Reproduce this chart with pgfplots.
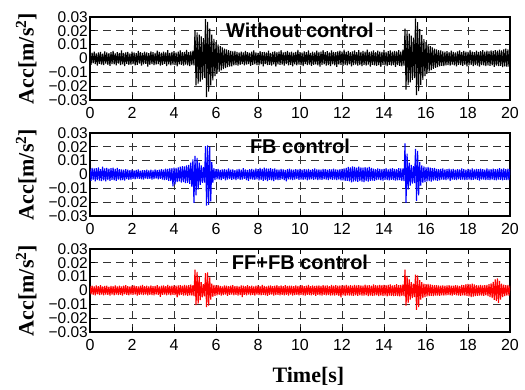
\documentclass[border=0pt]{standalone}
\usepackage{fontspec}
\setmainfont{Liberation Serif}
\setsansfont{Liberation Sans}
\usepackage{pgfplots}
\pgfplotsset{compat=1.18}
\tikzset{ttl/.style={font=\fontsize{20}{20}\selectfont\sffamily\bfseries}}
\pgfplotsset{
  accax/.style={
    scale only axis, width=420pt, height=83pt,
    xmin=0, xmax=20, ymin=-0.03, ymax=0.03,
    scaled y ticks=false,
    xtick={0,2,4,6,8,10,12,14,16,18,20},
    xticklabels={0,2,4,6,8,10,12,14,16,18,20},
    ytick={-0.03,-0.02,-0.01,0,0.01,0.02,0.03},
    yticklabels={−0.03,−0.02,−0.01,0,0.01,0.02,0.03},
    grid=major,
    major grid style={black!80, dash pattern=on 8pt off 5pt, line width=0.7pt},
    tick style={black, line width=0.8pt}, major tick length=5pt, tick align=inside,
    axis line style={line width=1.2pt},
    xticklabel style={font=\fontsize{16}{16}\selectfont\sffamily, inner sep=2pt, yshift=-5pt},
    yticklabel style={font=\fontsize{15.5}{15.5}\selectfont\sffamily, inner sep=0pt, xshift=-2pt},
    ylabel={Acc[m/s\textsuperscript{2}]},
    every axis y label/.style={at={(axis description cs:-0.152,0.5)}, rotate=90, anchor=center,
      font=\fontsize{22}{22}\selectfont\bfseries},
    every axis x label/.style={at={(axis description cs:0.52,-0.53)}, anchor=center,
      font=\fontsize{22}{22}\selectfont\bfseries},
    every axis plot/.append style={line width=1.1pt, line join=bevel},
  },
}
\begin{document}
\begin{tikzpicture}
\path[use as bounding box] (0pt,0pt) rectangle (525pt,390pt);
% ---------------- Without control ----------------
\begin{axis}[accax, at={(90pt,290pt)}, anchor=south west]
\addplot[black] coordinates {
(0,0.0038) (0.05,-0.0046) (0.1,0.0042) (0.15,-0.0035) (0.2,0.0049) (0.25,-0.0041) (0.3,0.0036) (0.35,-0.0052) (0.4,0.0044) (0.45,-0.0039) (0.5,0.0047) (0.55,-0.0044) (0.6,0.0034) (0.65,-0.0048) (0.7,0.0051) (0.75,-0.0037) (0.8,0.0043) (0.85,-0.0045) (0.9,0.0039) (0.95,-0.0053)
(1,0.0046) (1.05,-0.0040) (1.1,0.0055) (1.15,-0.0043) (1.2,0.0037) (1.25,-0.0049) (1.3,0.0045) (1.35,-0.0036) (1.4,0.0041) (1.45,-0.0047) (1.5,0.0058) (1.55,-0.0042) (1.6,0.0040) (1.65,-0.0055) (1.7,0.0044) (1.75,-0.0038) (1.8,0.0048) (1.85,-0.0046) (1.9,0.0036) (1.95,-0.0044)
(2,0.0050) (2.05,-0.0041) (2.1,0.0043) (2.15,-0.0050) (2.2,0.0039) (2.25,-0.0045) (2.3,0.0054) (2.35,-0.0037) (2.4,0.0046) (2.45,-0.0052) (2.5,0.0041) (2.55,-0.0043) (2.6,0.0049) (2.65,-0.0039) (2.7,0.0044) (2.75,-0.0058) (2.8,0.0038) (2.85,-0.0045) (2.9,0.0052) (2.95,-0.0041)
(3,0.0045) (3.05,-0.0048) (3.1,0.0040) (3.15,-0.0044) (3.2,0.0057) (3.25,-0.0040) (3.3,0.0047) (3.35,-0.0051) (3.4,0.0042) (3.45,-0.0046) (3.5,0.0050) (3.55,-0.0038) (3.6,0.0044) (3.65,-0.0054) (3.7,0.0061) (3.75,-0.0043) (3.8,0.0041) (3.85,-0.0049) (3.9,0.0048) (3.95,-0.0044)
(4,0.0053) (4.05,-0.0047) (4.1,0.0043) (4.15,-0.0056) (4.2,0.0049) (4.25,-0.0042) (4.3,0.0058) (4.35,-0.0046) (4.4,0.0045) (4.45,-0.0051) (4.5,0.0047) (4.55,-0.0044) (4.6,0.0062) (4.65,-0.0049) (4.7,0.0046) (4.75,-0.0055) (4.8,0.0051) (4.85,-0.0047) (4.9,0.0056) (4.95,-0.0050)
(5,0.0205) (5.05,-0.0195) (5.1,0.0188) (5.15,-0.0182) (5.2,0.0172) (5.25,-0.0168) (5.3,0.0160) (5.35,-0.0152) (5.4,0.0148) (5.45,-0.0140) (5.5,0.0285) (5.55,-0.0280) (5.6,0.0265) (5.65,-0.0240) (5.7,0.0215) (5.75,-0.0195) (5.8,0.0172) (5.85,-0.0158) (5.9,0.0142) (5.95,-0.0128)
(6,0.0118) (6.05,-0.0110) (6.1,0.0102) (6.15,-0.0096) (6.2,0.0090) (6.25,-0.0085) (6.3,0.0081) (6.35,-0.0076) (6.4,0.0072) (6.45,-0.0069) (6.5,0.0066) (6.55,-0.0063) (6.6,0.0060) (6.65,-0.0058) (6.7,0.0055) (6.75,-0.0057) (6.8,0.0052) (6.85,-0.0050) (6.9,0.0054) (6.95,-0.0048)
(7,0.0047) (7.05,-0.0052) (7.1,0.0044) (7.15,-0.0046) (7.2,0.0050) (7.25,-0.0041) (7.3,0.0043) (7.35,-0.0049) (7.4,0.0055) (7.45,-0.0044) (7.5,0.0046) (7.55,-0.0040) (7.6,0.0042) (7.65,-0.0053) (7.7,0.0049) (7.75,-0.0045) (7.8,0.0059) (7.85,-0.0042) (7.9,0.0044) (7.95,-0.0047)
(8,0.0041) (8.05,-0.0050) (8.1,0.0053) (8.15,-0.0043) (8.2,0.0045) (8.25,-0.0056) (8.3,0.0048) (8.35,-0.0041) (8.4,0.0043) (8.45,-0.0048) (8.5,0.0057) (8.55,-0.0045) (8.6,0.0040) (8.65,-0.0051) (8.7,0.0047) (8.75,-0.0043) (8.8,0.0052) (8.85,-0.0059) (8.9,0.0045) (8.95,-0.0042)
(9,0.0049) (9.05,-0.0046) (9.1,0.0060) (9.15,-0.0044) (9.2,0.0043) (9.25,-0.0052) (9.3,0.0047) (9.35,-0.0040) (9.4,0.0055) (9.45,-0.0049) (9.5,0.0044) (9.55,-0.0045) (9.6,0.0050) (9.65,-0.0057) (9.7,0.0042) (9.75,-0.0043) (9.8,0.0048) (9.85,-0.0050) (9.9,0.0062) (9.95,-0.0044)
(10,0.0046) (10.05,-0.0048) (10.1,0.0043) (10.15,-0.0055) (10.2,0.0052) (10.25,-0.0041) (10.3,0.0045) (10.35,-0.0047) (10.4,0.0058) (10.45,-0.0044) (10.5,0.0041) (10.55,-0.0053) (10.6,0.0049) (10.65,-0.0046) (10.7,0.0044) (10.75,-0.0042) (10.8,0.0056) (10.85,-0.0049) (10.9,0.0047) (10.95,-0.0058)
(11,0.0050) (11.05,-0.0045) (11.1,0.0061) (11.15,-0.0043) (11.2,0.0046) (11.25,-0.0051) (11.3,0.0053) (11.35,-0.0047) (11.4,0.0044) (11.45,-0.0055) (11.5,0.0059) (11.55,-0.0042) (11.6,0.0048) (11.65,-0.0049) (11.7,0.0045) (11.75,-0.0060) (11.8,0.0052) (11.85,-0.0044) (11.9,0.0057) (11.95,-0.0046)
(12,0.0049) (12.05,-0.0053) (12.1,0.0063) (12.15,-0.0045) (12.2,0.0047) (12.25,-0.0050) (12.3,0.0055) (12.35,-0.0043) (12.4,0.0046) (12.45,-0.0057) (12.5,0.0051) (12.55,-0.0048) (12.6,0.0058) (12.65,-0.0044) (12.7,0.0045) (12.75,-0.0052) (12.8,0.0060) (12.85,-0.0047) (12.9,0.0048) (12.95,-0.0055)
(13,0.0054) (13.05,-0.0046) (13.1,0.0049) (13.15,-0.0051) (13.2,0.0064) (13.25,-0.0044) (13.3,0.0047) (13.35,-0.0058) (13.4,0.0052) (13.45,-0.0045) (13.5,0.0059) (13.55,-0.0049) (13.6,0.0046) (13.65,-0.0053) (13.7,0.0056) (13.75,-0.0047) (13.8,0.0050) (13.85,-0.0061) (13.9,0.0048) (13.95,-0.0045)
(14,0.0062) (14.05,-0.0050) (14.1,0.0047) (14.15,-0.0054) (14.2,0.0053) (14.25,-0.0046) (14.3,0.0058) (14.35,-0.0052) (14.4,0.0049) (14.45,-0.0047) (14.5,0.0055) (14.55,-0.0060) (14.6,0.0051) (14.65,-0.0048) (14.7,0.0060) (14.75,-0.0053) (14.8,0.0050) (14.85,-0.0056) (14.9,0.0063) (14.95,-0.0051)
(15,0.0215) (15.05,-0.0225) (15.1,0.0198) (15.15,-0.0190) (15.2,0.0180) (15.25,-0.0172) (15.3,0.0165) (15.35,-0.0155) (15.4,0.0150) (15.45,-0.0142) (15.5,0.0290) (15.55,-0.0265) (15.6,0.0262) (15.65,-0.0235) (15.7,0.0212) (15.75,-0.0190) (15.8,0.0170) (15.85,-0.0155) (15.9,0.0140) (15.95,-0.0128)
(16,0.0118) (16.05,-0.0110) (16.1,0.0102) (16.15,-0.0095) (16.2,0.0090) (16.25,-0.0084) (16.3,0.0080) (16.35,-0.0075) (16.4,0.0072) (16.45,-0.0068) (16.5,0.0066) (16.55,-0.0062) (16.6,0.0060) (16.65,-0.0057) (16.7,0.0058) (16.75,-0.0053) (16.8,0.0051) (16.85,-0.0055) (16.9,0.0049) (16.95,-0.0050)
(17,0.0053) (17.05,-0.0047) (17.1,0.0045) (17.15,-0.0052) (17.2,0.0057) (17.25,-0.0044) (17.3,0.0048) (17.35,-0.0050) (17.4,0.0044) (17.45,-0.0056) (17.5,0.0051) (17.55,-0.0046) (17.6,0.0059) (17.65,-0.0048) (17.7,0.0046) (17.75,-0.0053) (17.8,0.0055) (17.85,-0.0045) (17.9,0.0049) (17.95,-0.0057)
(18,0.0047) (18.05,-0.0049) (18.1,0.0060) (18.15,-0.0046) (18.2,0.0050) (18.25,-0.0054) (18.3,0.0046) (18.35,-0.0048) (18.4,0.0056) (18.45,-0.0051) (18.5,0.0048) (18.55,-0.0059) (18.6,0.0053) (18.65,-0.0047) (18.7,0.0061) (18.75,-0.0050) (18.8,0.0049) (18.85,-0.0055) (18.9,0.0057) (18.95,-0.0049)
(19,0.0052) (19.05,-0.0053) (19.1,0.0058) (19.15,-0.0050) (19.2,0.0055) (19.25,-0.0061) (19.3,0.0060) (19.35,-0.0052) (19.4,0.0057) (19.45,-0.0055) (19.5,0.0063) (19.55,-0.0054) (19.6,0.0059) (19.65,-0.0062) (19.7,0.0066) (19.75,-0.0056) (19.8,0.0071) (19.85,-0.0060) (19.9,0.0065) (19.95,-0.0058) (20,0.0062)
};
\node[ttl] at (axis description cs:0.5,0.84) {Without control};
\end{axis}
% ---------------- FB control ----------------
\begin{axis}[accax, at={(90pt,174pt)}, anchor=south west]
\addplot[blue] coordinates {
(0,0.0041) (0.05,-0.0045) (0.1,0.0048) (0.15,-0.0038) (0.2,0.0043) (0.25,-0.0050) (0.3,0.0046) (0.35,-0.0041) (0.4,0.0052) (0.45,-0.0044) (0.5,0.0039) (0.55,-0.0047) (0.6,0.0057) (0.65,-0.0042) (0.7,0.0044) (0.75,-0.0049) (0.8,0.0047) (0.85,-0.0040) (0.9,0.0042) (0.95,-0.0046)
(1,0.0045) (1.05,-0.0039) (1.1,0.0050) (1.15,-0.0043) (1.2,0.0040) (1.25,-0.0045) (1.3,0.0047) (1.35,-0.0037) (1.4,0.0038) (1.45,-0.0042) (1.5,0.0036) (1.55,-0.0040) (1.6,0.0034) (1.65,-0.0044) (1.7,0.0039) (1.75,-0.0033) (1.8,0.0035) (1.85,-0.0038) (1.9,0.0032) (1.95,-0.0036)
(2,0.0034) (2.05,-0.0031) (2.1,0.0030) (2.15,-0.0035) (2.2,0.0033) (2.25,-0.0029) (2.3,0.0036) (2.35,-0.0032) (2.4,0.0028) (2.45,-0.0034) (2.5,0.0031) (2.55,-0.0037) (2.6,0.0032) (2.65,-0.0030) (2.7,0.0035) (2.75,-0.0033) (2.8,0.0029) (2.85,-0.0031) (2.9,0.0034) (2.95,-0.0036)
(3,0.0030) (3.05,-0.0033) (3.1,0.0036) (3.15,-0.0029) (3.2,0.0032) (3.25,-0.0035) (3.3,0.0034) (3.35,-0.0031) (3.4,0.0038) (3.45,-0.0036) (3.5,0.0035) (3.55,-0.0040) (3.6,0.0042) (3.65,-0.0038) (3.7,0.0040) (3.75,-0.0045) (3.8,0.0044) (3.85,-0.0048) (3.9,0.0046) (3.95,-0.0085)
(4,0.0050) (4.05,-0.0072) (4.1,0.0048) (4.15,-0.0055) (4.2,0.0052) (4.25,-0.0050) (4.3,0.0056) (4.35,-0.0058) (4.4,0.0060) (4.45,-0.0055) (4.5,0.0058) (4.55,-0.0062) (4.6,0.0065) (4.65,-0.0060) (4.7,0.0070) (4.75,-0.0068) (4.8,0.0085) (4.85,-0.0090) (4.9,0.0110) (4.95,-0.0205)
(5,0.0135) (5.05,-0.0150) (5.1,0.0120) (5.15,-0.0110) (5.2,0.0085) (5.25,-0.0075) (5.3,0.0065) (5.35,-0.0060) (5.4,0.0055) (5.45,-0.0058) (5.5,0.0205) (5.55,-0.0225) (5.6,0.0210) (5.65,-0.0220) (5.7,0.0200) (5.75,-0.0195) (5.8,0.0090) (5.85,-0.0060) (5.9,0.0045) (5.95,-0.0040)
(6,0.0038) (6.05,-0.0035) (6.1,0.0041) (6.15,-0.0037) (6.2,0.0033) (6.25,-0.0040) (6.3,0.0036) (6.35,-0.0032) (6.4,0.0039) (6.45,-0.0042) (6.5,0.0034) (6.55,-0.0036) (6.6,0.0044) (6.65,-0.0033) (6.7,0.0035) (6.75,-0.0039) (6.8,0.0037) (6.85,-0.0034) (6.9,0.0032) (6.95,-0.0041)
(7,0.0036) (7.05,-0.0033) (7.1,0.0040) (7.15,-0.0038) (7.2,0.0034) (7.25,-0.0036) (7.3,0.0045) (7.35,-0.0032) (7.4,0.0037) (7.45,-0.0040) (7.5,0.0033) (7.55,-0.0046) (7.6,0.0038) (7.65,-0.0035) (7.7,0.0041) (7.75,-0.0037) (7.8,0.0035) (7.85,-0.0039) (7.9,0.0043) (7.95,-0.0034)
(8,0.0039) (8.05,-0.0042) (8.1,0.0047) (8.15,-0.0038) (8.2,0.0041) (8.25,-0.0045) (8.3,0.0050) (8.35,-0.0040) (8.4,0.0044) (8.45,-0.0048) (8.5,0.0042) (8.55,-0.0039) (8.6,0.0046) (8.65,-0.0043) (8.7,0.0040) (8.75,-0.0047) (8.8,0.0043) (8.85,-0.0038) (8.9,0.0037) (8.95,-0.0041)
(9,0.0035) (9.05,-0.0038) (9.1,0.0040) (9.15,-0.0034) (9.2,0.0037) (9.25,-0.0041) (9.3,0.0033) (9.35,-0.0050) (9.4,0.0038) (9.45,-0.0035) (9.5,0.0042) (9.55,-0.0037) (9.6,0.0036) (9.65,-0.0040) (9.7,0.0034) (9.75,-0.0036) (9.8,0.0039) (9.85,-0.0033) (9.9,0.0037) (9.95,-0.0039)
(10,0.0041) (10.05,-0.0036) (10.1,0.0034) (10.15,-0.0039) (10.2,0.0038) (10.25,-0.0034) (10.3,0.0036) (10.35,-0.0042) (10.4,0.0040) (10.45,-0.0037) (10.5,0.0033) (10.55,-0.0035) (10.6,0.0039) (10.65,-0.0038) (10.7,0.0043) (10.75,-0.0034) (10.8,0.0036) (10.85,-0.0040) (10.9,0.0037) (10.95,-0.0036)
(11,0.0034) (11.05,-0.0039) (11.1,0.0040) (11.15,-0.0035) (11.2,0.0038) (11.25,-0.0037) (11.3,0.0035) (11.35,-0.0041) (11.4,0.0039) (11.45,-0.0034) (11.5,0.0036) (11.55,-0.0038) (11.6,0.0042) (11.65,-0.0036) (11.7,0.0037) (11.75,-0.0040) (11.8,0.0035) (11.85,-0.0037) (11.9,0.0039) (11.95,-0.0043)
(12,0.0040) (12.05,-0.0042) (12.1,0.0044) (12.15,-0.0046) (12.2,0.0048) (12.25,-0.0045) (12.3,0.0055) (12.35,-0.0050) (12.4,0.0052) (12.45,-0.0056) (12.5,0.0058) (12.55,-0.0051) (12.6,0.0054) (12.65,-0.0049) (12.7,0.0050) (12.75,-0.0053) (12.8,0.0057) (12.85,-0.0048) (12.9,0.0051) (12.95,-0.0052)
(13,0.0049) (13.05,-0.0055) (13.1,0.0053) (13.15,-0.0047) (13.2,0.0050) (13.25,-0.0051) (13.3,0.0055) (13.35,-0.0046) (13.4,0.0048) (13.45,-0.0044) (13.5,0.0042) (13.55,-0.0045) (13.6,0.0039) (13.65,-0.0041) (13.7,0.0043) (13.75,-0.0037) (13.8,0.0040) (13.85,-0.0042) (13.9,0.0038) (13.95,-0.0044)
(14,0.0041) (14.05,-0.0038) (14.1,0.0045) (14.15,-0.0040) (14.2,0.0037) (14.25,-0.0043) (14.3,0.0042) (14.35,-0.0039) (14.4,0.0046) (14.45,-0.0041) (14.5,0.0040) (14.55,-0.0044) (14.6,0.0038) (14.65,-0.0042) (14.7,0.0045) (14.75,-0.0040) (14.8,0.0043) (14.85,-0.0046) (14.9,0.0044) (14.95,-0.0048)
(15,0.0225) (15.05,-0.0205) (15.1,0.0150) (15.15,-0.0110) (15.2,0.0085) (15.25,-0.0080) (15.3,0.0070) (15.35,-0.0065) (15.4,0.0060) (15.45,-0.0062) (15.5,0.0185) (15.55,-0.0190) (15.6,0.0170) (15.65,-0.0150) (15.7,0.0090) (15.75,-0.0080) (15.8,0.0065) (15.85,-0.0060) (15.9,0.0058) (15.95,-0.0055)
(16,0.0052) (16.05,-0.0050) (16.1,0.0055) (16.15,-0.0047) (16.2,0.0049) (16.25,-0.0052) (16.3,0.0046) (16.35,-0.0044) (16.4,0.0048) (16.45,-0.0043) (16.5,0.0041) (16.55,-0.0045) (16.6,0.0039) (16.65,-0.0042) (16.7,0.0040) (16.75,-0.0037) (16.8,0.0043) (16.85,-0.0039) (16.9,0.0036) (16.95,-0.0040)
(17,0.0038) (17.05,-0.0035) (17.1,0.0042) (17.15,-0.0046) (17.2,0.0037) (17.25,-0.0036) (17.3,0.0040) (17.35,-0.0038) (17.4,0.0035) (17.45,-0.0041) (17.5,0.0039) (17.55,-0.0034) (17.6,0.0036) (17.65,-0.0039) (17.7,0.0044) (17.75,-0.0037) (17.8,0.0038) (17.85,-0.0040) (17.9,0.0035) (17.95,-0.0038)
(18,0.0040) (18.05,-0.0036) (18.1,0.0037) (18.15,-0.0041) (18.2,0.0043) (18.25,-0.0038) (18.3,0.0036) (18.35,-0.0035) (18.4,0.0041) (18.45,-0.0039) (18.5,0.0038) (18.55,-0.0044) (18.6,0.0042) (18.65,-0.0037) (18.7,0.0039) (18.75,-0.0036) (18.8,0.0035) (18.85,-0.0040) (18.9,0.0044) (18.95,-0.0038)
(19,0.0037) (19.05,-0.0041) (19.1,0.0039) (19.15,-0.0036) (19.2,0.0042) (19.25,-0.0040) (19.3,0.0038) (19.35,-0.0043) (19.4,0.0041) (19.45,-0.0037) (19.5,0.0045) (19.55,-0.0039) (19.6,0.0040) (19.65,-0.0042) (19.7,0.0043) (19.75,-0.0038) (19.8,0.0039) (19.85,-0.0041) (19.9,0.0042) (19.95,-0.0040) (20,0.0038)
};
\node[ttl] at (axis description cs:0.5,0.84) {FB control};
\end{axis}
% ---------------- FF+FB control ----------------
\begin{axis}[accax, at={(90pt,58pt)}, anchor=south west, xlabel={Time[s]}]
\addplot[red] coordinates {
(0,0.0032) (0.05,-0.0028) (0.1,0.0035) (0.15,-0.0031) (0.2,0.0029) (0.25,-0.0034) (0.3,0.0036) (0.35,-0.0027) (0.4,0.0031) (0.45,-0.0033) (0.5,0.0038) (0.55,-0.0030) (0.6,0.0030) (0.65,-0.0035) (0.7,0.0033) (0.75,-0.0029) (0.8,0.0034) (0.85,-0.0032) (0.9,0.0028) (0.95,-0.0036)
(1,0.0033) (1.05,-0.0030) (1.1,0.0031) (1.15,-0.0034) (1.2,0.0037) (1.25,-0.0029) (1.3,0.0030) (1.35,-0.0033) (1.4,0.0035) (1.45,-0.0031) (1.5,0.0029) (1.55,-0.0036) (1.6,0.0034) (1.65,-0.0028) (1.7,0.0039) (1.75,-0.0032) (1.8,0.0031) (1.85,-0.0034) (1.9,0.0030) (1.95,-0.0030)
(2,0.0034) (2.05,-0.0031) (2.1,0.0036) (2.15,-0.0029) (2.2,0.0032) (2.25,-0.0037) (2.3,0.0029) (2.35,-0.0032) (2.4,0.0035) (2.45,-0.0030) (2.5,0.0040) (2.55,-0.0033) (2.6,0.0031) (2.65,-0.0029) (2.7,0.0034) (2.75,-0.0035) (2.8,0.0030) (2.85,-0.0031) (2.9,0.0036) (2.95,-0.0033)
(3,0.0031) (3.05,-0.0034) (3.1,0.0033) (3.15,-0.0030) (3.2,0.0038) (3.25,-0.0032) (3.3,0.0030) (3.35,-0.0045) (3.4,0.0034) (3.45,-0.0031) (3.5,0.0036) (3.55,-0.0029) (3.6,0.0032) (3.65,-0.0035) (3.7,0.0041) (3.75,-0.0030) (3.8,0.0033) (3.85,-0.0034) (3.9,0.0035) (3.95,-0.0032)
(4,0.0037) (4.05,-0.0033) (4.1,0.0034) (4.15,-0.0050) (4.2,0.0036) (4.25,-0.0035) (4.3,0.0039) (4.35,-0.0032) (4.4,0.0035) (4.45,-0.0037) (4.5,0.0040) (4.55,-0.0034) (4.6,0.0036) (4.65,-0.0039) (4.7,0.0038) (4.75,-0.0035) (4.8,0.0042) (4.85,-0.0037) (4.9,0.0039) (4.95,-0.0041)
(5,0.0150) (5.05,-0.0105) (5.1,0.0135) (5.15,-0.0095) (5.2,0.0100) (5.25,-0.0070) (5.3,0.0060) (5.35,-0.0050) (5.4,0.0045) (5.45,-0.0042) (5.5,0.0125) (5.55,-0.0120) (5.6,0.0130) (5.65,-0.0110) (5.7,0.0095) (5.75,-0.0065) (5.8,0.0050) (5.85,-0.0045) (5.9,0.0040) (5.95,-0.0038)
(6,0.0036) (6.05,-0.0034) (6.1,0.0039) (6.15,-0.0031) (6.2,0.0033) (6.25,-0.0036) (6.3,0.0030) (6.35,-0.0033) (6.4,0.0037) (6.45,-0.0030) (6.5,0.0034) (6.55,-0.0038) (6.6,0.0031) (6.65,-0.0032) (6.7,0.0035) (6.75,-0.0029) (6.8,0.0038) (6.85,-0.0034) (6.9,0.0032) (6.95,-0.0031)
(7,0.0033) (7.05,-0.0036) (7.1,0.0030) (7.15,-0.0033) (7.2,0.0036) (7.25,-0.0048) (7.3,0.0034) (7.35,-0.0031) (7.4,0.0032) (7.45,-0.0035) (7.5,0.0039) (7.55,-0.0030) (7.6,0.0031) (7.65,-0.0034) (7.7,0.0035) (7.75,-0.0032) (7.8,0.0030) (7.85,-0.0037) (7.9,0.0034) (7.95,-0.0030)
(8,0.0036) (8.05,-0.0033) (8.1,0.0031) (8.15,-0.0035) (8.2,0.0040) (8.25,-0.0031) (8.3,0.0033) (8.35,-0.0034) (8.4,0.0030) (8.45,-0.0038) (8.5,0.0035) (8.55,-0.0032) (8.6,0.0037) (8.65,-0.0030) (8.7,0.0032) (8.75,-0.0036) (8.8,0.0034) (8.85,-0.0033) (8.9,0.0039) (8.95,-0.0031)
(9,0.0032) (9.05,-0.0035) (9.1,0.0036) (9.15,-0.0032) (9.2,0.0031) (9.25,-0.0034) (9.3,0.0038) (9.35,-0.0031) (9.4,0.0033) (9.45,-0.0036) (9.5,0.0035) (9.55,-0.0030) (9.6,0.0034) (9.65,-0.0037) (9.7,0.0031) (9.75,-0.0033) (9.8,0.0037) (9.85,-0.0032) (9.9,0.0033) (9.95,-0.0035)
(10,0.0035) (10.05,-0.0031) (10.1,0.0038) (10.15,-0.0034) (10.2,0.0032) (10.25,-0.0036) (10.3,0.0034) (10.35,-0.0032) (10.4,0.0041) (10.45,-0.0033) (10.5,0.0031) (10.55,-0.0035) (10.6,0.0036) (10.65,-0.0031) (10.7,0.0033) (10.75,-0.0038) (10.8,0.0035) (10.85,-0.0032) (10.9,0.0037) (10.95,-0.0034)
(11,0.0033) (11.05,-0.0036) (11.1,0.0039) (11.15,-0.0032) (11.2,0.0034) (11.25,-0.0035) (11.3,0.0036) (11.35,-0.0033) (11.4,0.0032) (11.45,-0.0037) (11.5,0.0040) (11.55,-0.0034) (11.6,0.0035) (11.65,-0.0036) (11.7,0.0038) (11.75,-0.0033) (11.8,0.0034) (11.85,-0.0039) (11.9,0.0036) (11.95,-0.0050)
(12,0.0037) (12.05,-0.0035) (12.1,0.0036) (12.15,-0.0038) (12.2,0.0040) (12.25,-0.0034) (12.3,0.0035) (12.35,-0.0037) (12.4,0.0039) (12.45,-0.0036) (12.5,0.0034) (12.55,-0.0038) (12.6,0.0041) (12.65,-0.0035) (12.7,0.0036) (12.75,-0.0039) (12.8,0.0038) (12.85,-0.0034) (12.9,0.0037) (12.95,-0.0036)
(13,0.0035) (13.05,-0.0037) (13.1,0.0042) (13.15,-0.0035) (13.2,0.0036) (13.25,-0.0040) (13.3,0.0038) (13.35,-0.0036) (13.4,0.0035) (13.45,-0.0038) (13.5,0.0043) (13.55,-0.0037) (13.6,0.0039) (13.65,-0.0035) (13.7,0.0036) (13.75,-0.0041) (13.8,0.0040) (13.85,-0.0036) (13.9,0.0038) (13.95,-0.0039)
(14,0.0041) (14.05,-0.0037) (14.1,0.0038) (14.15,-0.0042) (14.2,0.0040) (14.25,-0.0036) (14.3,0.0044) (14.35,-0.0039) (14.4,0.0037) (14.45,-0.0040) (14.5,0.0039) (14.55,-0.0038) (14.6,0.0045) (14.65,-0.0041) (14.7,0.0038) (14.75,-0.0043) (14.8,0.0041) (14.85,-0.0039) (14.9,0.0043) (14.95,-0.0040)
(15,0.0150) (15.05,-0.0110) (15.1,0.0105) (15.15,-0.0090) (15.2,0.0080) (15.25,-0.0065) (15.3,0.0060) (15.35,-0.0055) (15.4,0.0050) (15.45,-0.0048) (15.5,0.0115) (15.55,-0.0140) (15.6,0.0110) (15.65,-0.0120) (15.7,0.0075) (15.75,-0.0065) (15.8,0.0060) (15.85,-0.0055) (15.9,0.0050) (15.95,-0.0048)
(16,0.0045) (16.05,-0.0042) (16.1,0.0047) (16.15,-0.0040) (16.2,0.0043) (16.25,-0.0038) (16.3,0.0040) (16.35,-0.0041) (16.4,0.0038) (16.45,-0.0036) (16.5,0.0039) (16.55,-0.0037) (16.6,0.0036) (16.65,-0.0039) (16.7,0.0035) (16.75,-0.0034) (16.8,0.0037) (16.85,-0.0036) (16.9,0.0034) (16.95,-0.0035)
(17,0.0036) (17.05,-0.0033) (17.1,0.0038) (17.15,-0.0035) (17.2,0.0034) (17.25,-0.0037) (17.3,0.0035) (17.35,-0.0032) (17.4,0.0039) (17.45,-0.0034) (17.5,0.0037) (17.55,-0.0036) (17.6,0.0033) (17.65,-0.0038) (17.7,0.0040) (17.75,-0.0035) (17.8,0.0038) (17.85,-0.0037) (17.9,0.0045) (17.95,-0.0039)
(18,0.0048) (18.05,-0.0043) (18.1,0.0046) (18.15,-0.0047) (18.2,0.0050) (18.25,-0.0044) (18.3,0.0043) (18.35,-0.0041) (18.4,0.0039) (18.45,-0.0038) (18.5,0.0037) (18.55,-0.0036) (18.6,0.0040) (18.65,-0.0037) (18.7,0.0036) (18.75,-0.0039) (18.8,0.0038) (18.85,-0.0035) (18.9,0.0041) (18.95,-0.0040)
(19,0.0045) (19.05,-0.0047) (19.1,0.0052) (19.15,-0.0055) (19.2,0.0062) (19.25,-0.0068) (19.3,0.0080) (19.35,-0.0075) (19.4,0.0088) (19.45,-0.0090) (19.5,0.0070) (19.55,-0.0065) (19.6,0.0050) (19.65,-0.0048) (19.7,0.0042) (19.75,-0.0040) (19.8,0.0038) (19.85,-0.0037) (19.9,0.0040) (19.95,-0.0036) (20,0.0035)
};
\node[ttl] at (axis description cs:0.5,0.84) {FF+FB control};
\end{axis}
\end{tikzpicture}
\end{document}
